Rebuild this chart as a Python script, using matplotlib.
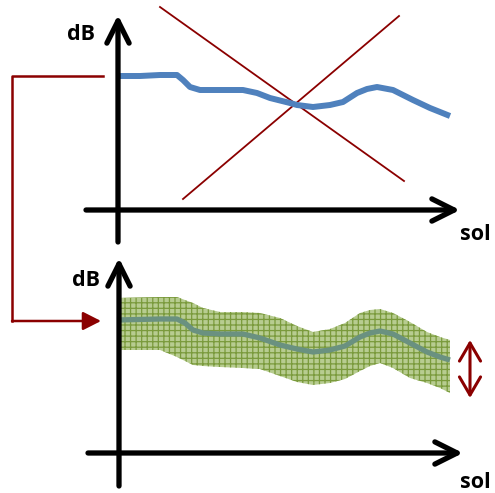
import numpy as np
import matplotlib
matplotlib.use('Agg')
import matplotlib.pyplot as plt

# everything is laid out in pixel space of the 495x493 picture (y down)
W, H = 495, 493

# top panel: spectrum-like curve (x, y in pixels)
blue_x = [117, 140, 160, 177, 183, 190, 200, 220, 243, 257, 270, 290, 297,
          313, 330, 343, 357, 367, 377, 393, 413, 430, 450]
blue_y = [76, 76, 75, 75, 80, 87, 90, 90, 90, 93, 98, 103, 105,
          107, 105, 102, 93, 89, 87, 90, 100, 108, 116]

# the two crossing lines
cross1_x = [160, 404]
cross1_y = [7, 181]
cross2_x = [183, 399]
cross2_y = [199, 16]

# bottom panel: smoothed curve and its band
green_x = [117, 160, 177, 185, 193, 203, 220, 243, 260, 280, 297, 313, 330,
           345, 360, 370, 380, 393, 410, 427, 440, 450]
green_mid = [320, 319, 319, 323, 330, 333, 334, 334, 338, 345, 349, 352, 350,
             346, 337, 333, 331, 334, 343, 352, 357, 360]
green_up = [298, 297, 297, 300, 303, 308, 312, 312, 313, 318, 326, 332, 329,
            323, 313, 310, 309, 313, 322, 332, 337, 340]
green_lo = [350, 350, 357, 361, 365, 366, 367, 368, 369, 376, 382, 385, 383,
            379, 371, 366, 363, 368, 378, 383, 388, 393]

# axes geometry (tail, tip)
top_yaxis = [(118, 242), (118, 15)]
top_xaxis = [(86, 210), (460, 210)]
bot_yaxis = [(119, 486), (119, 258)]
bot_xaxis = [(88, 453), (463, 453)]

# connector from top curve to bottom panel
conn_x = [103, 12, 12]
conn_y = [76, 76, 321]
conn_arrow = [(12, 321), (101, 321)]
spread_arrow = [(470, 340), (470, 398)]

red = '#8b0000'

plt.rcParams['hatch.linewidth'] = 0.9
plt.rcParams['hatch.color'] = '#7a9a3c'

fig = plt.figure(figsize=(W / 100, H / 100), dpi=100)
ax = fig.add_axes([0, 0, 1, 1])
ax.set_xlim(0, W)
ax.set_ylim(H, 0)
ax.axis('off')


def axis_arrow(p):
    ax.annotate('', xy=p[1], xytext=p[0],
                arrowprops=dict(arrowstyle='->,head_length=0.8,head_width=0.4',
                                lw=3.8, color='black', shrinkA=0, shrinkB=0,
                                mutation_scale=20, capstyle='round',
                                joinstyle='round'))


def label(x, y, s):
    ax.text(x, y, s, fontsize=15.5, fontweight='bold', family='Open Sans',
            ha='center', va='center')


# top panel
ax.plot(cross1_x, cross1_y, color=red, lw=1.3)
ax.plot(cross2_x, cross2_y, color=red, lw=1.3)
ax.plot(blue_x, blue_y, color='#4f81bd', lw=4.3, solid_capstyle='butt',
        solid_joinstyle='round')
axis_arrow(top_yaxis)
axis_arrow(top_xaxis)
label(81, 34, 'dB')
label(475, 235, 'sol')

# bottom panel
ax.fill_between(green_x, green_up, green_lo, facecolor='#b7cc90',
                edgecolor='#7a9a3c', hatch='+++', lw=0)
ax.plot(green_x, green_mid, color='#6a9180', lw=3.8, solid_capstyle='butt',
        solid_joinstyle='round')
axis_arrow(bot_yaxis)
axis_arrow(bot_xaxis)
label(86, 280, 'dB')
label(475, 482, 'sol')

# connector and spread arrow
ax.plot(conn_x, conn_y, color=red, lw=1.8)
ax.annotate('', xy=conn_arrow[1], xytext=conn_arrow[0],
            arrowprops=dict(arrowstyle='-|>,head_length=0.55,head_width=0.28',
                            lw=1.8, color=red, shrinkA=0, shrinkB=0,
                            mutation_scale=20))
ax.annotate('', xy=spread_arrow[1], xytext=spread_arrow[0],
            arrowprops=dict(arrowstyle='<->,head_length=0.65,head_width=0.38',
                            lw=2.2, color=red, shrinkA=0, shrinkB=0,
                            mutation_scale=20))

fig.savefig('out.png', dpi=100)
